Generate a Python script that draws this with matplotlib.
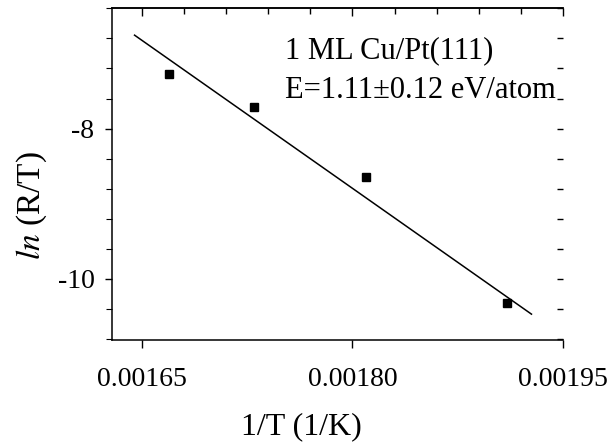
import matplotlib
matplotlib.use('Agg')
import matplotlib.pyplot as plt
import numpy as np
from matplotlib.ticker import MultipleLocator, NullFormatter

plt.rcParams['font.family'] = 'Liberation Serif'
plt.rcParams['mathtext.fontset'] = 'stix'

# measured points
inv_T = [0.0016693, 0.0017301, 0.0018098, 0.0019103]
ln_RT = [-7.271, -7.709, -8.644, -10.323]

# fitted line endpoints
fit_x = [0.001645, 0.0019274]
fit_y = [-6.756, -10.471]

xticks = [0.00165, 0.00180, 0.00195]
xticklabels = ['0.00165', '0.00180', '0.00195']
yticks = [-8, -10]
yticklabels = ['-8', '-10']

xlim = (0.0016293, 0.00195)
ylim = (-10.81, -6.40)

fig = plt.figure(figsize=(6.07, 4.43), dpi=100)
ax = fig.add_axes([0.1853, 0.2334, 0.7426, 0.7476])

ax.plot(fit_x, fit_y, color='black', linewidth=1.1)
ax.plot(inv_T, ln_RT, 's', color='black', markersize=5.5)

ax.set_xlim(*xlim)
ax.set_ylim(*ylim)
ax.set_xticks(xticks)
ax.set_xticklabels(xticklabels)
ax.set_yticks(yticks)
ax.set_yticklabels(yticklabels)
ax.yaxis.set_minor_locator(MultipleLocator(0.4))
ax.tick_params(which='both', direction='out', labelsize=20)
ax.tick_params(axis='x', which='major', length=6, width=1, pad=14)
ax.tick_params(axis='y', which='major', length=5, width=1, pad=8)
ax.tick_params(axis='y', which='minor', length=4, width=0.8)
ax.spines['right'].set_visible(False)
for s in ['left', 'bottom', 'top']:
    ax.spines[s].set_linewidth(1.1)

# inward ticks on top
top = ax.twiny()
top.set_xlim(*xlim)
top.set_xticks(xticks)
top.set_xticks(np.arange(0.00165, 0.00196, 0.00003), minor=True)
top.xaxis.set_major_formatter(NullFormatter())
top.tick_params(axis='x', which='both', direction='in', width=1, top=True, bottom=False)
top.tick_params(axis='x', which='major', length=6)
top.tick_params(axis='x', which='minor', length=4)
for s in ['left', 'right', 'bottom']:
    top.spines[s].set_visible(False)
top.spines['top'].set_linewidth(1.1)

# inward ticks on right
right = ax.twinx()
right.set_ylim(*ylim)
right.set_yticks(yticks)
right.yaxis.set_minor_locator(MultipleLocator(0.4))
right.yaxis.set_major_formatter(NullFormatter())
right.tick_params(which='both', direction='in', length=4, width=1)
for s in right.spines.values():
    s.set_visible(False)

ax.text(0.383, 0.873, '1 ML Cu/Pt(111)', transform=ax.transAxes, fontsize=22, va='center')
ax.text(0.383, 0.752, 'E=1.11\u00b10.12 eV/atom', transform=ax.transAxes, fontsize=22, va='center')

ax.set_xlabel('1/T (1/K)', fontsize=23)
ax.xaxis.label.set_va('center')
ax.xaxis.set_label_coords(0.42, -0.262)
ax.set_ylabel(r'$ln$ (R/T)', fontsize=24)
ax.yaxis.label.set_va('center')
ax.yaxis.set_label_coords(-0.18, 0.405)

plt.savefig('out.png', dpi=100)
